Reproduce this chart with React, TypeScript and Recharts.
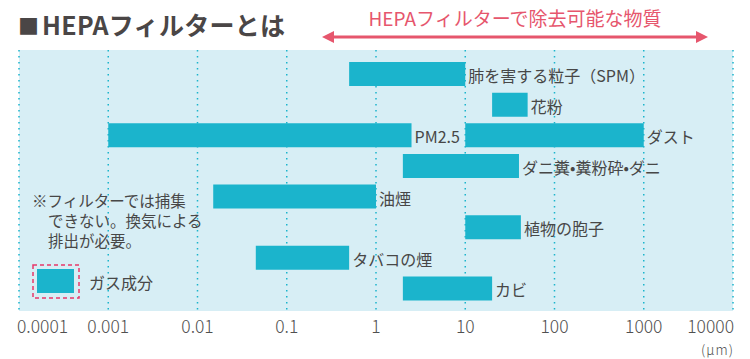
import React from 'react';
import { BarChart, Bar, XAxis, YAxis, CartesianGrid, LabelList } from 'recharts';

const categories = ['肺を害する粒子（SPM）', '花粉', 'PM2.5', 'ダニ糞•糞粉砕•ダニ', '油煙', '植物の胞子', 'タバコの煙', 'カビ'];
const lowValues = [0.5, 20, 0.001, 2, 0.015, 10, 0.045, 2];
const highValues = [10, 50, 2.5, 40, 1, 42, 0.5, 20];
const secondLow: (number | null)[] = [null, null, 10, null, null, null, null, null];
const secondHigh: (number | null)[] = [null, null, 1000, null, null, null, null, null];
const secondNames = ['', '', 'ダスト', '', '', '', '', ''];
const tickValues = [0.0001, 0.001, 0.01, 0.1, 1, 10, 100, 1000, 10000];
const tickLabels = ['0.0001', '0.001', '0.01', '0.1', '1', '10', '100', '1000', '10000'];

const rows = categories.map((name, i) => ({
  name,
  range: [lowValues[i], highValues[i]],
  range2: secondLow[i] != null ? [secondLow[i], secondHigh[i]] : null,
  name2: secondNames[i],
}));

const BAR = '#1bb4cc';
const BG = '#d7eef5';
const TEXT = '#474747';
const RED = '#e6566d';
const FONT = '"Noto Sans CJK JP", "Noto Sans", sans-serif';

const Tick = (props: any) => {
  const { x, y, index } = props;
  const last = tickValues.length - 1;
  const anchor = index === 0 ? 'start' : index === last ? 'end' : 'middle';
  const tx = index === 0 ? x - 2 : index === last ? x + 1 : x;
  return (
    <text x={tx} y={y + 6} textAnchor={anchor} dominantBaseline="central" fontSize={17.5} fontWeight={300} fill="#505050" fontFamily={FONT}>
      {tickLabels[index]}
    </text>
  );
};

const BarLabel = (props: any) => {
  const { x, y, width, height, value } = props;
  if (!value || width == null) return null;
  return (
    <text x={x + width + 3} y={y + height / 2 + 1} dominantBaseline="central" fontSize={16} fill={TEXT} fontFamily={FONT}>
      {value}
    </text>
  );
};

export default function App() {
  return (
    <div style={{ position: 'absolute', left: 0, top: 0, width: 750, height: 359, background: '#fff', fontFamily: FONT }}>
      <BarChart
        width={750}
        height={359}
        data={rows}
        layout="vertical"
        margin={{ top: 50, right: 17, bottom: 18, left: 19 }}
      >
        <CartesianGrid horizontal={false} vertical fill={BG} stroke={BAR} strokeDasharray="1.5 4.5" strokeWidth={1.5} />
        <XAxis
          type="number"
          scale="log"
          domain={[0.0001, 10000]}
          ticks={tickValues}
          allowDataOverflow
          height={30}
          axisLine={false}
          tickLine={false}
          tick={<Tick />}
          interval={0}
        />
        <YAxis yAxisId="a" type="category" dataKey="name" hide padding={{ top: 9, bottom: 7 }} />
        <YAxis yAxisId="b" type="category" dataKey="name" hide padding={{ top: 9, bottom: 7 }} />
        <Bar yAxisId="a" dataKey="range" fill={BAR} barSize={24} isAnimationActive={false}>
          <LabelList dataKey="name" content={<BarLabel />} />
        </Bar>
        <Bar yAxisId="b" dataKey="range2" fill={BAR} barSize={24} isAnimationActive={false}>
          <LabelList dataKey="name2" content={<BarLabel />} />
        </Bar>
      </BarChart>
      <svg width={750} height={359} style={{ position: 'absolute', left: 0, top: 0, pointerEvents: 'none' }}>
        <text x={18} y={25} dominantBaseline="central" fontSize={21} fontWeight={700} fill="#4a4646" fontFamily={FONT}>■</text>
        <text x={42} y={24} dominantBaseline="central" fontSize={25} fontWeight={700} fill="#4a4646" fontFamily={FONT} letterSpacing={0.3}>HEPAフィルターとは</text>
        <text x={515} y={17} textAnchor="middle" dominantBaseline="central" fontSize={19} fill={RED} fontFamily={FONT}>HEPAフィルターで除去可能な物質</text>
        <line x1={330} y1={37} x2={700} y2={37} stroke={RED} strokeWidth={3} />
        <polygon points="322,37 334,31 334,43" fill={RED} />
        <polygon points="708,37 696,31 696,43" fill={RED} />
        <text fontSize={15.5} fill={TEXT} fontFamily={FONT} dominantBaseline="central">
          <tspan x={32} y={200}>※フィルターでは捕集</tspan>
          <tspan x={48} y={220}>できない。換気による</tspan>
          <tspan x={48} y={240}>排出が必要。</tspan>
        </text>
        <rect x={33} y={265} width={46} height={33} fill="none" stroke="#e8386a" strokeWidth={1.5} strokeDasharray="4 3" />
        <rect x={37} y={269} width={37} height={24} fill={BAR} />
        <text x={89} y={282} dominantBaseline="central" fontSize={16} fill={TEXT} fontFamily={FONT}>ガス成分</text>
        <text x={734} y={349} textAnchor="end" dominantBaseline="central" fontSize={13.5} fontWeight={300} letterSpacing={1} fill="#505050" fontFamily={FONT}>(µm)</text>
      </svg>
    </div>
  );
}
